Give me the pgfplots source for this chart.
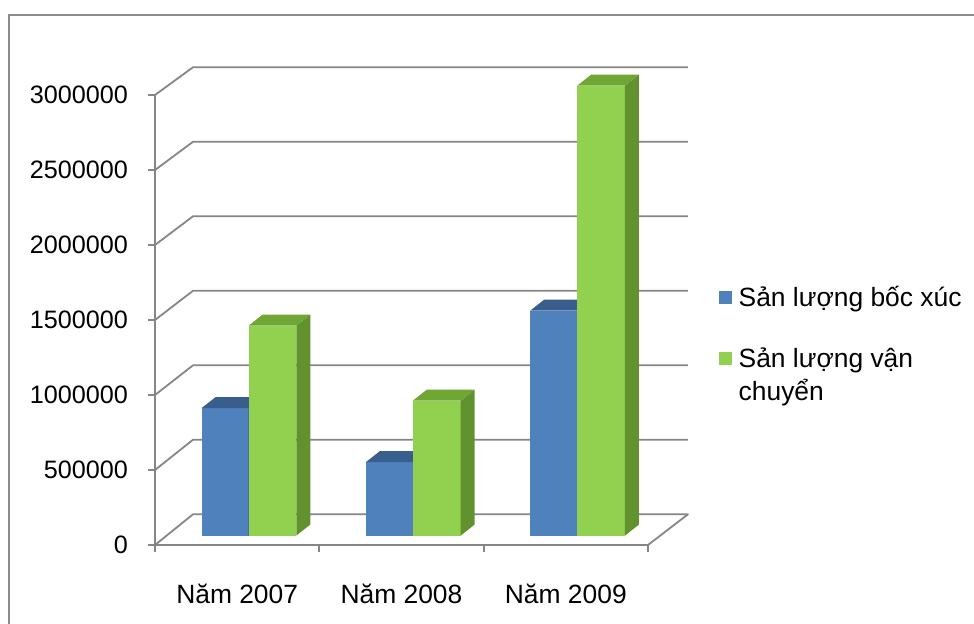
\documentclass[border=0pt]{standalone}
\usepackage{fontspec}
\setmainfont{Liberation Sans}
\usepackage{pgfplots}
\pgfplotsset{compat=1.18}
\definecolor{gridgray}{RGB}{134,134,134}
\definecolor{framegray}{RGB}{140,140,140}
\definecolor{bluefront}{RGB}{79,129,189}
\definecolor{blueside}{RGB}{47,82,124}
\definecolor{bluetop}{RGB}{56,94,142}
\definecolor{greenfront}{RGB}{146,208,80}
\definecolor{greenside}{RGB}{98,146,46}
\definecolor{greentop}{RGB}{112,166,52}
\newcommand\myfont{\fontsize{12.6}{15}\selectfont}
\newcommand\bigfont{\fontsize{13.2}{16}\selectfont}
% 3-D column: #1 left x, #2 right x, #3 value, #4 front, #5 side, #6 top colour
\newcommand\tdbar[6]{%
\begingroup
\pgfkeys{/pgf/fpu=true,/pgf/fpu/output format=fixed}%
\pgfmathsetmacro\ya{63000}%
\pgfmathsetmacro\yb{#3+63000}%
\pgfmathsetmacro\yc{#3+63000+73333}%
\pgfmathsetmacro\yd{63000+73333}%
\pgfmathsetmacro\xc{#2+0.085}%
\pgfmathsetmacro\xe{#1+0.085}%
\pgfkeys{/pgf/fpu=false}%
\edef\tmp{%
\noexpand\addplot[forget plot,fill=#4,draw=none] coordinates {(#1,\ya) (#2,\ya) (#2,\yb) (#1,\yb)} -- cycle;
\noexpand\addplot[forget plot,fill=#5,draw=none] coordinates {(#2,\ya) (\xc,\yd) (\xc,\yc) (#2,\yb)} -- cycle;
\noexpand\addplot[forget plot,fill=#6,draw=none] coordinates {(#1,\yb) (#2,\yb) (\xc,\yc) (\xe,\yc)} -- cycle;
}%
\tmp
\endgroup}
\begin{document}
\begin{tikzpicture}
\useasboundingbox (0,0) rectangle (487pt,311.5pt);
\fill[white] (0,0) rectangle (487pt,311.5pt);
\draw[framegray,line width=1pt] (4.5pt,-2pt) -- (4.5pt,304pt) -- (490pt,304pt);
\begin{axis}[
  at={(77.5pt,39pt)}, anchor=south west,
  scale only axis, width=246.5pt, height=225pt,
  xmin=0, xmax=3, ymin=0, ymax=3000000,
  clip=false,
  scaled y ticks=false,
  axis x line*=bottom, axis y line*=left,
  axis line style={draw=gridgray,line width=0.9pt,-},
  tick style={draw=gridgray,line width=0.9pt},
  tick align=outside, major tick length=3.5pt,
  xtick={0,1,2,3}, xticklabels={},
  extra x ticks={0.5,1.5,2.5},
  extra x tick labels={Năm 2007,Năm 2008,Năm 2009},
  extra x tick style={major tick length=0pt, tick style={draw=none}},
  xticklabel style={font=\bigfont, yshift=-16pt},
  ytick={0,500000,1000000,1500000,2000000,2500000,3000000},
  yticklabels={0,500000,1000000,1500000,2000000,2500000,3000000},
  yticklabel style={font=\myfont, xshift=-6.5pt},
  /pgf/number format/assume math mode=true,
  legend style={at={(1.143,0.585)}, anchor=north west, draw=none, fill=none,
    font=\bigfont, row sep=14pt, inner sep=0pt, nodes={inner sep=2pt},
    column sep=1.5pt},
  legend cell align=left,
]
\addlegendimage{legend image code/.code={\fill[bluefront] (0pt,-3pt) rectangle (6pt,3pt);}}
\addlegendentry{Sản lượng bốc xúc}
\addlegendimage{legend image code/.code={\fill[greenfront] (0pt,-3pt) rectangle (6pt,3pt);}}
\addlegendentry{\begin{tabular}[t]{@{}l@{}}Sản lượng vận\\[0.5pt]chuyển\end{tabular}}
% walls and floor
\addplot[forget plot,gridgray,line width=0.9pt,line join=round] coordinates {(0,0) (0.231,204667) (3.243,204667) (3,0)};
\addplot[forget plot,gridgray,line width=0.9pt,line join=round] coordinates {(0,500000) (0.231,701333) (3.243,701333)};
\addplot[forget plot,gridgray,line width=0.9pt,line join=round] coordinates {(0,1000000) (0.231,1198000) (3.243,1198000)};
\addplot[forget plot,gridgray,line width=0.9pt,line join=round] coordinates {(0,1500000) (0.231,1694667) (3.243,1694667)};
\addplot[forget plot,gridgray,line width=0.9pt,line join=round] coordinates {(0,2000000) (0.231,2191333) (3.243,2191333)};
\addplot[forget plot,gridgray,line width=0.9pt,line join=round] coordinates {(0,2500000) (0.231,2688000) (3.243,2688000)};
\addplot[forget plot,gridgray,line width=0.9pt,line join=round] coordinates {(0,3000000) (0.231,3184667) (3.243,3184667)};
% Sản lượng bốc xúc
\tdbar{0.284}{0.570}{850000}{bluefront}{blueside}{bluetop}
\tdbar{1.284}{1.570}{490000}{bluefront}{blueside}{bluetop}
\tdbar{2.284}{2.570}{1500000}{bluefront}{blueside}{bluetop}
% Sản lượng vận chuyển
\tdbar{0.570}{0.860}{1400000}{greenfront}{greenside}{greentop}
\tdbar{1.570}{1.860}{900000}{greenfront}{greenside}{greentop}
\tdbar{2.570}{2.860}{3000000}{greenfront}{greenside}{greentop}
\end{axis}
\end{tikzpicture}
\end{document}
